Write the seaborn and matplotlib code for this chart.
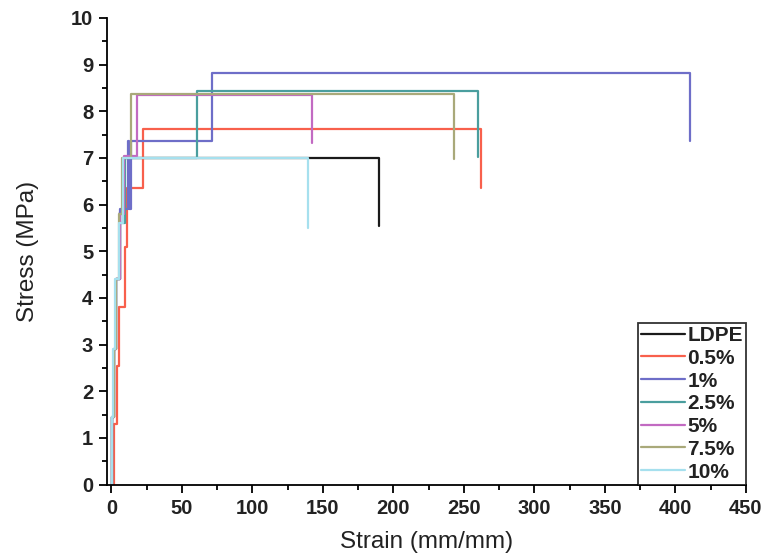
import numpy as np
import pandas as pd
import matplotlib
matplotlib.use("Agg")
import matplotlib.pyplot as plt
from matplotlib.ticker import MultipleLocator
import seaborn as sns

# Stress-strain readings for each blend (strain in mm/mm, stress in MPa)
series_names = ["LDPE", "0.5%", "1%", "2.5%", "5%", "7.5%", "10%"]

ldpe_strain = [0, 0.8, 2.2, 3.5, 6.0, 8.5, 190.0]
ldpe_stress = [0, 1.45, 2.9, 4.4, 5.85, 7.0, 5.55]

p05_strain = [0, 1.8, 3.7, 5.3, 9.5, 11.0, 22.6, 262.4]
p05_stress = [0, 1.3, 2.55, 3.8, 5.1, 6.35, 7.62, 6.35]

p1_strain = [0, 0.6, 2.0, 3.2, 6.5, 12.0, 12.8, 14.0, 71.2, 410.4]
p1_stress = [0, 1.45, 2.9, 4.4, 5.9, 7.36, 5.9, 7.36, 8.82, 7.36]

p25_strain = [0, 0.8, 2.2, 3.6, 6.5, 10.0, 60.9, 259.8]
p25_stress = [0, 1.45, 2.9, 4.4, 5.6, 7.0, 8.43, 7.02]

p5_strain = [0, 0.8, 2.2, 3.5, 6.5, 9.0, 18.0, 142.0]
p5_stress = [0, 1.45, 2.9, 4.4, 5.8, 7.05, 8.35, 7.31]

p75_strain = [0, 0.8, 2.2, 3.5, 5.5, 7.5, 13.9, 242.8]
p75_stress = [0, 1.45, 2.9, 4.4, 5.8, 7.0, 8.36, 6.98]

p10_strain = [0, 0.5, 1.5, 2.5, 5.3, 8.0, 139.6]
p10_stress = [0, 1.45, 2.9, 4.4, 5.6, 7.0, 5.5]

strains = [ldpe_strain, p05_strain, p1_strain, p25_strain, p5_strain, p75_strain, p10_strain]
stresses = [ldpe_stress, p05_stress, p1_stress, p25_stress, p5_stress, p75_stress, p10_stress]

x_ticks = list(range(0, 451, 50))
y_ticks = list(range(0, 11))

colors = ["#1a1a1a", "#f8604c", "#6e6ec8", "#4a9e9e", "#c26ac2", "#a9a97a", "#a6e0ee"]

frames = []
for name, sx, sy in zip(series_names, strains, stresses):
    frames.append(pd.DataFrame({"Strain": sx, "Stress": sy, "Sample": name}))
df = pd.concat(frames, ignore_index=True)

sns.set_theme(style="ticks")
plt.rcParams["font.family"] = ["Liberation Sans", "DejaVu Sans"]

fig = plt.figure(figsize=(7.65, 5.55), dpi=100)
ax = fig.add_axes([0.140, 0.1268, 0.835, 0.841])

sns.lineplot(
    data=df, x="Strain", y="Stress", hue="Sample",
    hue_order=series_names, palette=colors,
    estimator=None, sort=False, drawstyle="steps-post",
    linewidth=1.6, ax=ax,
)

ax.set_xlim(-3, 450)
ax.set_ylim(0, 10)
ax.set_xticks(x_ticks)
ax.set_yticks(y_ticks)
ax.xaxis.set_minor_locator(MultipleLocator(25))
ax.yaxis.set_minor_locator(MultipleLocator(0.5))
ax.tick_params(which="major", length=6, width=1.3, direction="out",
               labelsize=14.5, pad=4, color="black")
ax.tick_params(which="minor", length=3.5, width=1.3, direction="out", color="black")
for lab in ax.get_xticklabels() + ax.get_yticklabels():
    lab.set_fontweight("bold")
    lab.set_color("#222222")

for side in ["top", "right"]:
    ax.spines[side].set_visible(False)
for side in ["left", "bottom"]:
    ax.spines[side].set_linewidth(1.3)
    ax.spines[side].set_color("black")

ax.set_xlabel("Strain (mm/mm)", fontsize=17.5, color="#222222", labelpad=10)
ax.set_ylabel("Stress (MPa)", fontsize=17.5, color="#222222", labelpad=23)

handles, labels = ax.get_legend_handles_labels()
leg = ax.legend(
    handles, labels, loc="lower right", bbox_to_anchor=(1.0, 0.0),
    borderaxespad=0, frameon=True, fancybox=False, edgecolor="black",
    prop={"family": "Liberation Sans", "weight": "bold", "size": 15},
    handlelength=2.1, handletextpad=0.12, borderpad=0.15, labelspacing=0.18,
)
leg.get_frame().set_linewidth(1.3)
for h in leg.get_lines():
    h.set_linewidth(1.6)
for t in leg.get_texts():
    t.set_color("#222222")

fig.savefig("out.png", dpi=100, facecolor="white")
